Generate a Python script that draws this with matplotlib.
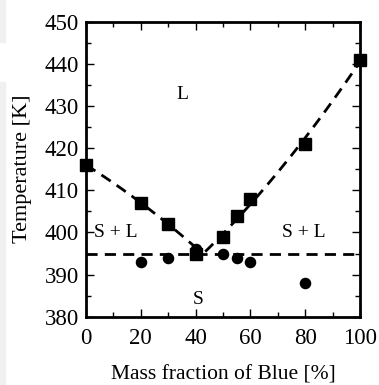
import numpy as np
import matplotlib.pyplot as plt
from matplotlib.patches import Rectangle

plt.rcParams['font.family'] = ['Liberation Serif', 'DejaVu Serif']

# liquidus (squares) and solidus (circles)
liq_x = [0, 20, 30, 40, 50, 55, 60, 80, 100]
liq_t = [416, 407, 402, 395, 399, 404, 408, 421, 441]
sol_x = [20, 30, 40, 50, 55, 60, 80]
sol_t = [393, 394, 396, 395, 394, 393, 388]

# guide curves through the liquidus points
left_x = [0, 20, 30, 42.5]
left_t = [416, 407, 402, 395]
right_x = [43.5, 50, 55, 60, 80, 100]
right_t = [395, 399, 404, 408, 421, 441]
eutectic_t = 395

fig = plt.figure(figsize=(3.79, 3.85), dpi=100)
ax = fig.add_axes([0.227, 0.177, 0.723, 0.767])

dash = dict(color='black', lw=2.0, linestyle=(0, (4, 2.6)))
c = np.polyfit(left_x, left_t, 2)
xx = np.linspace(left_x[0], left_x[-1], 100)
ax.plot(xx, np.polyval(c, xx), **dash)
c = np.polyfit(right_x, right_t, 2)
xx = np.linspace(right_x[0], right_x[-1], 100)
ax.plot(xx, np.polyval(c, xx), **dash)
ax.plot([0, 100], [eutectic_t, eutectic_t], **dash)

ax.plot(sol_x, sol_t, 'o', color='black', ms=7.3, clip_on=False, zorder=3)
ax.plot(liq_x, liq_t, 's', color='black', ms=9, clip_on=False, zorder=4)

ax.text(35, 432.7, 'L', fontsize=14, ha='center', va='center')
ax.text(11, 400, 'S + L', fontsize=14, ha='center', va='center')
ax.text(79.6, 400, 'S + L', fontsize=14, ha='center', va='center')
ax.text(41, 384, 'S', fontsize=14, ha='center', va='center')

ax.set_xlim(0, 100)
ax.set_ylim(380, 450)
ax.set_xticks(range(0, 101, 20))
ax.set_xticks(range(0, 101, 10), minor=True)
ax.set_yticks(range(380, 451, 10))
ax.set_yticks(range(380, 451, 5), minor=True)
ax.tick_params(which='both', direction='in', top=True, right=True, labelsize=16.5)
ax.tick_params(axis='x', pad=8)
ax.tick_params(axis='y', pad=5)
ax.tick_params(which='major', length=6, width=1)
ax.tick_params(which='minor', length=3.5, width=1)
for s in ax.spines.values():
    s.set_linewidth(2)

ax.set_xlabel('Mass fraction of Blue [%]', fontsize=15.5, labelpad=12)
ax.set_ylabel('Temperature [K]', fontsize=16, labelpad=9)

# light gray strip on the left edge of the screenshot
fig.patches.append(Rectangle((0, 385 - 42), 5, 42, transform=None, color='#f0f0f0', zorder=-1))
fig.patches.append(Rectangle((0, 0), 5, 385 - 82, transform=None, color='#f0f0f0', zorder=-1))

fig.savefig('out.png', dpi=100)
